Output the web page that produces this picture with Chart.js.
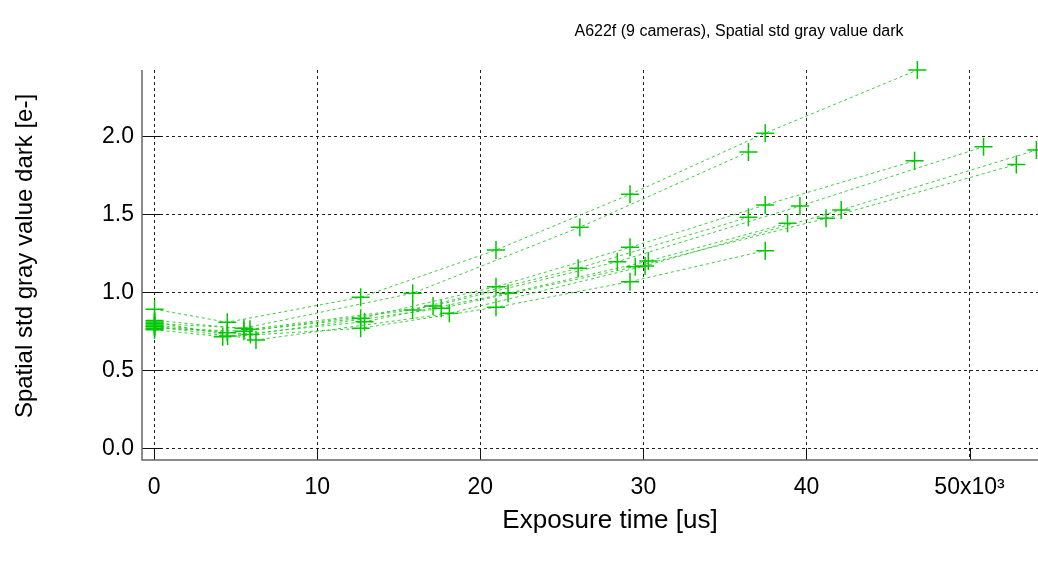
<!DOCTYPE html>
<html>
<head>
<meta charset="utf-8">
<script src="https://cdn.jsdelivr.net/npm/chart.js@4.4.0/dist/chart.umd.min.js"></script>
<style>
  html, body { margin: 0; padding: 0; background: #fff; overflow: hidden; }
  canvas { display: block; }
</style>
</head>
<body>
<canvas id="dark-chart" width="1038" height="562"></canvas>
<script>
// exposure times [us] and spatial std dark [e-] per camera
const camA_x = [20, 4480, 12660, 20960, 29180, 37470, 46800];
const camA_y = [0.891, 0.808, 0.968, 1.271, 1.628, 2.02, 2.425];
const camB_x = [20, 5500, 15850, 26100, 36440];
const camB_y = [0.80, 0.77, 0.994, 1.417, 1.90];
const camC_x = [20, 4480, 12660, 20960, 29180, 37470, 46630];
const camC_y = [0.78, 0.74, 0.833, 1.036, 1.288, 1.56, 1.843];
const camD_x = [20, 5870, 17100, 28400, 39600, 50860];
const camD_y = [0.82, 0.763, 0.912, 1.196, 1.553, 1.933];
const camE_x = [20, 5500, 15850, 26000, 36440];
const camE_y = [0.77, 0.75, 0.887, 1.154, 1.481];
const camF_x = [20, 5900, 17600, 29500, 41200, 52870];
const camF_y = [0.79, 0.73, 0.897, 1.164, 1.474, 1.82];
const camG_x = [20, 4200, 12660, 20960, 29180, 37470];
const camG_y = [0.76, 0.715, 0.769, 0.904, 1.068, 1.267];
const camH_x = [20, 6240, 18100, 30100, 42130, 54100];
const camH_y = [0.81, 0.694, 0.865, 1.169, 1.528, 1.912];
const camI_x = [20, 4500, 12900, 21700, 30300, 38840];
const camI_y = [0.78, 0.72, 0.812, 0.994, 1.20, 1.442];

const xTicks = [0, 10000, 20000, 30000, 40000, 50000];
const yTicks = [0.0, 0.5, 1.0, 1.5, 2.0];

const titleText = 'A622f (9 cameras), Spatial std gray value dark';
const xTitle = 'Exposure time [us]';
const yTitle = 'Spatial std gray value dark [e-]';

const FONT = '"Liberation Sans", Arial, sans-serif';

function pts(xs, ys) {
    return xs.map((x, i) => ({ x: x, y: ys[i] }));
}

const cams = [
    [camA_x, camA_y], [camB_x, camB_y], [camC_x, camC_y],
    [camD_x, camD_y], [camE_x, camE_y], [camF_x, camF_y],
    [camG_x, camG_y], [camH_x, camH_y], [camI_x, camI_y]
];

const datasets = cams.map((c, i) => ({
    label: 'cam' + (i + 1),
    data: pts(c[0], c[1]),
    showLine: true,
    borderColor: 'rgba(40,200,40,0.9)',
    borderWidth: 1,
    borderDash: [3, 3],
    pointStyle: 'cross',
    pointRadius: 9,
    pointBorderWidth: 1.5,
    pointBorderColor: 'rgb(0,200,0)',
    pointBackgroundColor: 'rgb(0,200,0)',
    clip: 12
}));

// axes, inward ticks and text labels
const decor = {
    id: 'decor',
    afterDraw(chart) {
        const ctx = chart.ctx;
        const a = chart.chartArea;
        const xs = chart.scales.x, ys = chart.scales.y;
        ctx.save();
        ctx.strokeStyle = '#111';
        ctx.lineWidth = 1;
        ctx.setLineDash([]);
        xTicks.forEach(v => {
            const px = Math.round(xs.getPixelForValue(v)) + 0.5;
            ctx.beginPath();
            ctx.moveTo(px, a.bottom);
            ctx.lineTo(px, a.bottom - 12);
            ctx.stroke();
        });
        yTicks.forEach(v => {
            const py = Math.round(ys.getPixelForValue(v)) + 0.5;
            ctx.beginPath();
            ctx.moveTo(a.left, py);
            ctx.lineTo(a.left + 20, py);
            ctx.stroke();
        });
        ctx.strokeStyle = '#666';
        ctx.lineWidth = 1.5;
        ctx.beginPath();
        ctx.moveTo(a.left, a.top);
        ctx.lineTo(a.left, a.bottom);
        ctx.lineTo(a.right, a.bottom);
        ctx.stroke();

        ctx.fillStyle = '#000';
        ctx.textAlign = 'center';
        ctx.textBaseline = 'middle';
        ctx.font = '16px ' + FONT;
        ctx.fillText(titleText, 739, 32);
        ctx.font = '26px ' + FONT;
        ctx.fillText(xTitle, 610, 521);
        ctx.font = '24px ' + FONT;
        ctx.translate(25, 256);
        ctx.rotate(-Math.PI / 2);
        ctx.fillText(yTitle, 0, 0);
        ctx.restore();
    }
};

const config = {
    type: 'scatter',
    data: { datasets: datasets },
    options: {
        responsive: false,
        animation: false,
        layout: { autoPadding: false, padding: { top: 70, right: 0, left: 0, bottom: 0 } },
        plugins: {
            legend: { display: false },
            tooltip: { enabled: false },
            title: { display: false }
        },
        scales: {
            x: {
                type: 'linear',
                min: -750,
                max: 54200,
                afterFit(scale) { scale.height = 102; },
                afterBuildTicks(scale) { scale.ticks = xTicks.map(v => ({ value: v })); },
                grid: { color: '#222', lineWidth: 1, drawTicks: false },
                border: { display: false, dash: [3, 3] },
                ticks: {
                    padding: 14,
                    color: '#000',
                    font: { family: FONT, size: 23 },
                    maxRotation: 0,
                    callback: v => v === 50000 ? '50x10³' : String(v / 1000)
                }
            },
            y: {
                type: 'linear',
                min: -0.075,
                max: 2.425,
                afterFit(scale) { scale.width = 142; },
                afterBuildTicks(scale) { scale.ticks = yTicks.map(v => ({ value: v })); },
                grid: { color: '#222', lineWidth: 1, drawTicks: false },
                border: { display: false, dash: [3, 3] },
                ticks: {
                    padding: 8,
                    color: '#000',
                    font: { family: FONT, size: 23 },
                    callback: v => v.toFixed(1)
                }
            }
        }
    },
    plugins: [decor]
};

const darkChart = new Chart(document.getElementById('dark-chart'), config);
</script>
</body>
</html>
